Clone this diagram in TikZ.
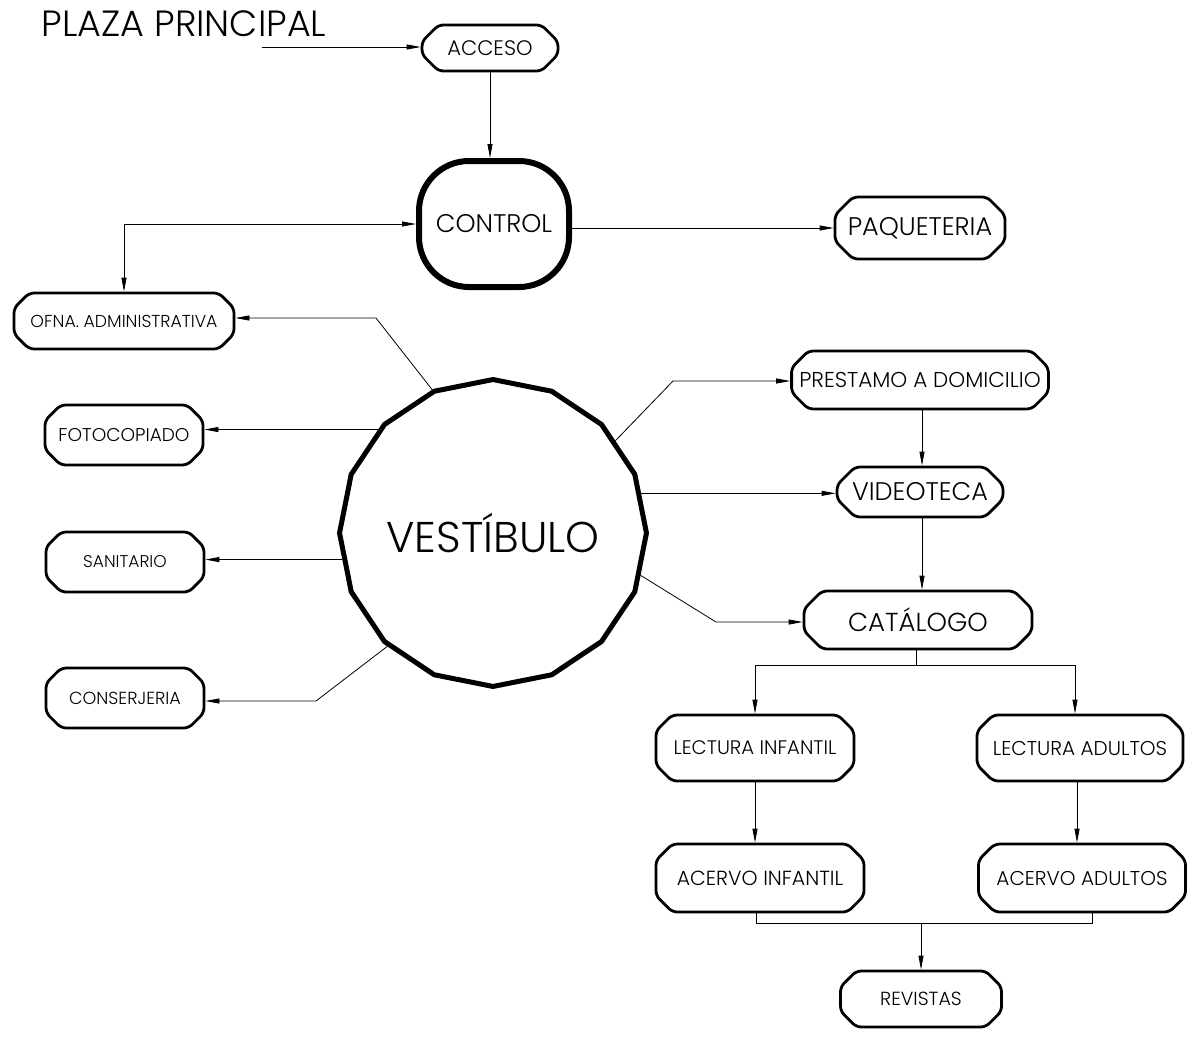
\documentclass[tikz,border=0pt]{standalone}
\usepackage{fontspec}
\setmainfont{Poppins}[UprightFont={* Light}]
\usetikzlibrary{arrows.meta,positioning,shapes.misc,shapes.geometric,calc}

\newcommand{\fs}[1]{\fontsize{#1}{#1}\selectfont}

\begin{document}
\begin{tikzpicture}[x=1pt, y=-1pt,
  room/.style={draw, chamfered rectangle, chamfered rectangle sep=9pt, rounded corners=5pt,
    line width=2.8pt, inner sep=0pt, align=center, font=\fs{20}},
  hub/.style={draw, rectangle, rounded corners=50pt, line width=6pt, inner sep=0pt, align=center},
  flow/.style={-{Triangle[length=14pt, width=5pt]}, line width=0.8pt},
  link/.style={line width=0.8pt}]
\useasboundingbox (0,0) rectangle (1194,1039);
% acceso y control
\node[font=\fs{36.5}] (plaza) at (184,24) {PLAZA PRINCIPAL};
\node[room, minimum width=136pt, minimum height=46pt, font=\fs{21}] (acceso) at (490,48) {ACCESO};
\node[hub, minimum width=150pt, minimum height=126pt, font=\fs{25.5}] (control) at (494,224) {CONTROL};
\node[room, minimum width=170pt, minimum height=62pt, font=\fs{25.5}] (paq) at (920,228) {PAQUETERIA};
\node[room, minimum width=220pt, minimum height=56pt, font=\fs{17.3}] (ofna) at (124,321) {OFNA. ADMINISTRATIVA};
\coordinate (plazain) at (262,47);
\draw[flow] (plazain) -- (plazain -| acceso.west);
\draw[flow] (acceso.south) -- (acceso.south |- control.north);
\draw[flow] (control.east |- paq.west) -- (paq.west);
\draw[{Triangle[length=14pt, width=5pt]}-{Triangle[length=14pt, width=5pt]}, line width=0.8pt]
  (control.west) -| (ofna.north);
% vestibulo
\node[draw, regular polygon, regular polygon sides=16, shape border rotate=11.25,
  minimum size=306pt, inner sep=0pt, line width=5pt, font=\fs{43}] (vest) at (493,533) {VESTÍBULO};
\node[room, minimum width=158pt, minimum height=60pt, font=\fs{18.5}] (foto) at (124,435) {FOTOCOPIADO};
\node[room, minimum width=158pt, minimum height=60pt, font=\fs{17}] (sani) at (125,562) {SANITARIO};
\node[room, minimum width=158pt, minimum height=60pt, font=\fs{17.5}] (cons) at (125,698) {CONSERJERIA};
\draw[flow] (vest.113) -- (376,318) -- (ofna.east |- 0,318);
\draw[flow] (vest.138.5) -- (vest.138.5 -| foto.east);
\draw[flow] (vest.190.4) -- (vest.190.4 -| sani.east);
\draw[flow] (vest.227.8) -- (316,701) -- (cons.east |- 0,701);
% lado derecho
\node[room, minimum width=256pt, minimum height=58pt, font=\fs{21.5}] (prest) at (920,380) {PRESTAMO A DOMICILIO};
\node[room, minimum width=166pt, minimum height=50pt, font=\fs{25.5}] (video) at (920,492) {VIDEOTECA};
\node[room, minimum width=228pt, minimum height=58pt, font=\fs{26}] (cat) at (918,620) {CATÁLOGO};
\draw[flow] (vest.37.7) -- (673,381) -- (prest.west |- 0,381);
\draw[flow] (vest.15.6) -- (vest.15.6 -| video.west);
\draw[flow] (vest.-16.9) -- (716,622) -- (cat.west |- 0,622);
\draw[flow] (prest.south -| 922,0) -- (video.north -| 922,0);
\draw[flow] (video.south -| 922,0) -- (cat.north -| 922,0);
% salas de lectura
\node[room, minimum width=198pt, minimum height=66pt, font=\fs{19.6}] (linf) at (755,748) {LECTURA INFANTIL};
\node[room, minimum width=206pt, minimum height=66pt] (ladu) at (1080,748) {LECTURA ADULTOS};
\node[room, minimum width=208pt, minimum height=68pt, font=\fs{20.4}] (ainf) at (760,878) {ACERVO INFANTIL};
\node[room, minimum width=207pt, minimum height=68pt] (aadu) at (1082,878) {ACERVO ADULTOS};
\node[room, minimum width=161pt, minimum height=56pt, font=\fs{19}] (rev) at (921,999) {REVISTAS};
\coordinate (cjoin) at (916,665);
\coordinate (ajoin) at (921,923);
\draw[link] (cat.south -| cjoin) -- (cjoin);
\draw[flow] (cjoin) -| (linf.north);
\draw[flow] (cjoin) -| (ladu.north -| 1075,0);
\draw[flow] (linf.south) -- (linf.south |- ainf.north);
\draw[flow] (ladu.south -| 1077,0) -- (ainf.north -| 1077,0);
\draw[link] (ainf.south -| 756,0) |- (ajoin) -| (aadu.south -| 1092,0);
\draw[flow] (ajoin) -- (rev.north);
\end{tikzpicture}
\end{document}
